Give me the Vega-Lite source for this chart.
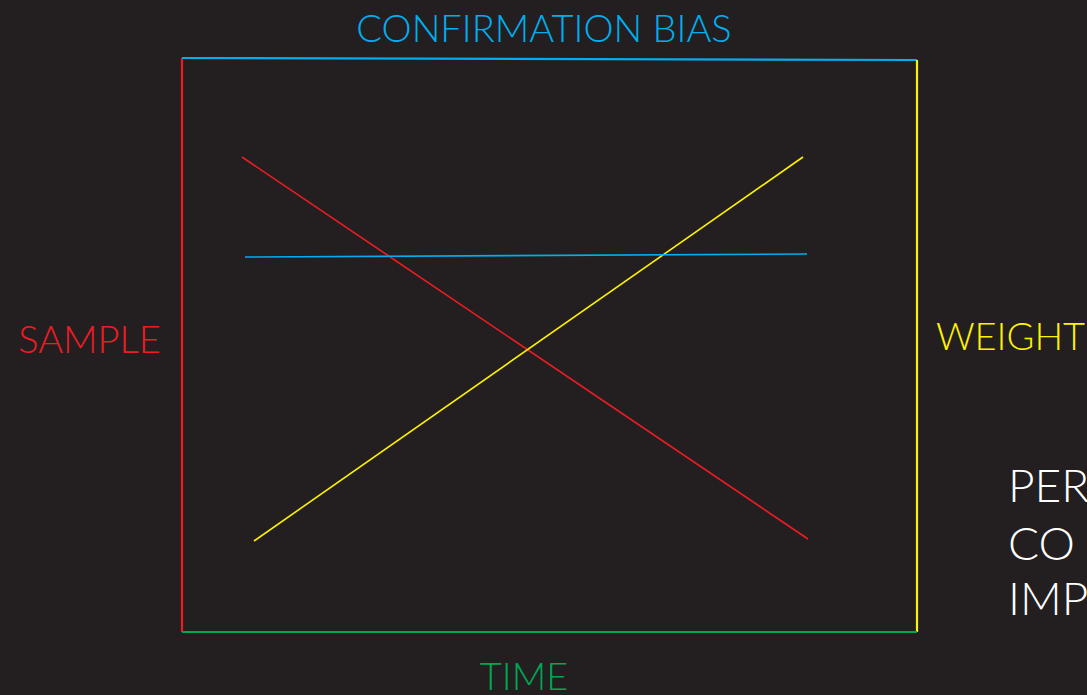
{
  "$schema": "https://vega.github.io/schema/vega-lite/v6.json",
  "width": 1087,
  "height": 695,
  "autosize": {"type": "fit", "contains": "padding"},
  "padding": 0,
  "background": "#231f20",
  "config": {"view": {"stroke": null}},
  "layer": [
    {
      "data": {"values": [
        {"seg": "left", "x": 182, "y": 58}, {"seg": "left", "x": 182, "y": 632},
        {"seg": "top", "x": 182, "y": 58}, {"seg": "top", "x": 917, "y": 60},
        {"seg": "right", "x": 917, "y": 60}, {"seg": "right", "x": 917, "y": 632},
        {"seg": "bottom", "x": 182, "y": 632}, {"seg": "bottom", "x": 917, "y": 632}
      ]},
      "mark": {"type": "line", "strokeWidth": 2.2, "clip": true},
      "encoding": {
        "x": {"field": "x", "type": "quantitative", "scale": {"domain": [0, 1087]}, "axis": null},
        "y": {"field": "y", "type": "quantitative", "scale": {"domain": [0, 695], "reverse": true}, "axis": null},
        "detail": {"field": "seg"},
        "color": {"field": "seg", "type": "nominal", "legend": null,
          "scale": {"domain": ["left", "top", "right", "bottom"], "range": ["#ed1c24", "#00aeef", "#fff200", "#00a651"]}}
      }
    },
    {
      "data": {"values": [
        {"seg": "sample", "x": 242, "y": 157}, {"seg": "sample", "x": 808, "y": 539},
        {"seg": "weight", "x": 254, "y": 541}, {"seg": "weight", "x": 803, "y": 157},
        {"seg": "bias", "x": 245, "y": 257}, {"seg": "bias", "x": 807, "y": 254}
      ]},
      "mark": {"type": "line", "strokeWidth": 1.6, "clip": true},
      "encoding": {
        "x": {"field": "x", "type": "quantitative", "scale": {"domain": [0, 1087]}, "axis": null},
        "y": {"field": "y", "type": "quantitative", "scale": {"domain": [0, 695], "reverse": true}, "axis": null},
        "detail": {"field": "seg"},
        "stroke": {"field": "seg", "type": "nominal", "legend": null,
          "scale": {"domain": ["sample", "weight", "bias"], "range": ["#ed1c24", "#fff200", "#00aeef"]}}
      }
    },
    {
      "data": {"values": [
        {"label": "CONFIRMATION BIAS", "x": 544, "y": 42, "c": "bias"},
        {"label": "SAMPLE", "x": 89.5, "y": 353, "c": "sample"},
        {"label": "WEIGHT", "x": 1010.5, "y": 350, "c": "weight"},
        {"label": "TIME", "x": 524, "y": 690, "c": "time"}
      ]},
      "mark": {"type": "text", "font": "Lato", "fontWeight": 300, "fontSize": 38, "align": "center", "baseline": "alphabetic", "clip": true},
      "encoding": {
        "x": {"field": "x", "type": "quantitative", "scale": {"domain": [0, 1087]}, "axis": null},
        "y": {"field": "y", "type": "quantitative", "scale": {"domain": [0, 695], "reverse": true}, "axis": null},
        "text": {"field": "label"},
        "color": {"field": "c", "type": "nominal", "legend": null,
          "scale": {"domain": ["bias", "sample", "weight", "time"], "range": ["#00aeef", "#ed1c24", "#fff200", "#00a651"]}}
      }
    },
    {
      "data": {"values": [
        {"label": "PER", "x": 1008, "y": 502},
        {"label": "CO", "x": 1008, "y": 560},
        {"label": "IMP", "x": 1008, "y": 615}
      ]},
      "mark": {"type": "text", "font": "Lato", "fontWeight": 300, "fontSize": 46, "align": "left", "baseline": "alphabetic", "color": "#ffffff", "clip": true},
      "encoding": {
        "x": {"field": "x", "type": "quantitative", "scale": {"domain": [0, 1087]}, "axis": null},
        "y": {"field": "y", "type": "quantitative", "scale": {"domain": [0, 695], "reverse": true}, "axis": null},
        "text": {"field": "label"}
      }
    }
  ],
  "resolve": {"scale": {"color": "independent"}}
}
